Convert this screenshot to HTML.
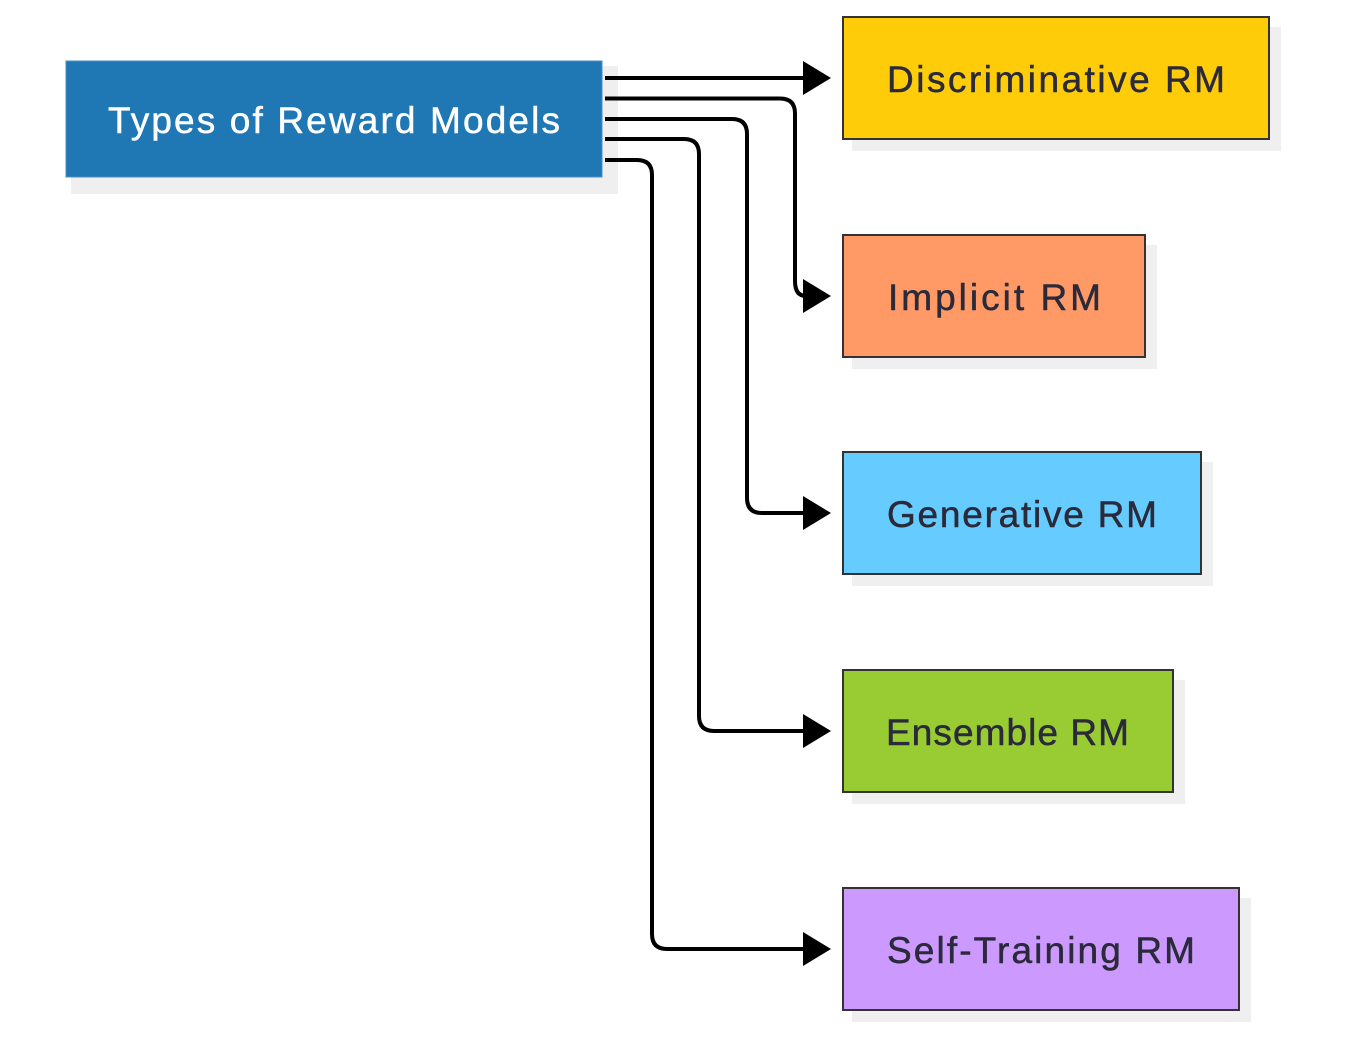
<!DOCTYPE html>
<html><head><style>
html,body{margin:0;padding:0;background:#fff;}
svg{display:block;}
text{font-family:"Liberation Sans",sans-serif;font-size:37px;}
</style></head><body>
<svg width="1366" height="1038" viewBox="0 0 1366 1038" xmlns="http://www.w3.org/2000/svg">
<rect x="71" y="66" width="547" height="128" fill="#efefef"/>
<rect x="852" y="27" width="429" height="124" fill="#efefef"/>
<rect x="852" y="245" width="305" height="124" fill="#efefef"/>
<rect x="852" y="462" width="361" height="124" fill="#efefef"/>
<rect x="852" y="680" width="333" height="124" fill="#efefef"/>
<rect x="852" y="898" width="399" height="124" fill="#efefef"/>
<rect x="66" y="61" width="536" height="116" fill="#1f77b4" stroke="#4a8fc4" stroke-width="1"/>
<text x="108" y="133" fill="#fff" textLength="452" lengthAdjust="spacing" stroke="#fff" stroke-width="0.5">Types of Reward Models</text>
<g stroke="#333" stroke-width="2">
<rect x="843" y="17" width="426" height="122" fill="#ffcc0a"/>
<rect x="843" y="235" width="302" height="122" fill="#ff9966"/>
<rect x="843" y="452" width="358" height="122" fill="#66ccff"/>
<rect x="843" y="670" width="330" height="122" fill="#99cc33"/>
<rect x="843" y="888" width="396" height="122" fill="#cc99ff"/>
</g>
<g fill="#2a2a3a" stroke="#2a2a3a" stroke-width="0.5" lengthAdjust="spacing">
<text x="887" y="92" textLength="338" lengthAdjust="spacing">Discriminative RM</text>
<text x="888" y="310" textLength="213" lengthAdjust="spacing">Implicit RM</text>
<text x="887" y="527" textLength="270" lengthAdjust="spacing">Generative RM</text>
<text x="886" y="745" textLength="243" lengthAdjust="spacing">Ensemble RM</text>
<text x="887" y="963" textLength="308" lengthAdjust="spacing">Self-Training RM</text>
</g>
<g fill="none" stroke="#000" stroke-width="4">
<path d="M605 78 H806"/>
<path d="M605 98.5 H780 Q795 98.5 795 113.5 V281 Q795 296 806 296"/>
<path d="M605 119 H732 Q747 119 747 134 V498 Q747 513 762 513 H806"/>
<path d="M605 139 H684 Q699 139 699 154 V716 Q699 731 714 731 H806"/>
<path d="M605 160 H637 Q652 160 652 175 V934 Q652 949 667 949 H806"/>
</g>
<g fill="#000">
<polygon points="803,61 831,78 803,95"/>
<polygon points="803,279 831,296 803,313"/>
<polygon points="803,496 831,513 803,530"/>
<polygon points="803,714 831,731 803,748"/>
<polygon points="803,932 831,949 803,966"/>
</g>
</svg>
</body></html>
